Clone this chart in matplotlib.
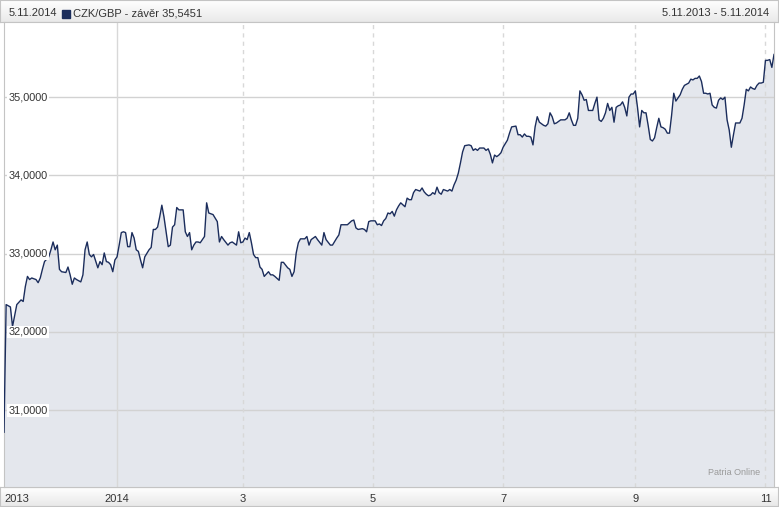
import datetime as dt
import numpy as np
import matplotlib
matplotlib.use('Agg')
import matplotlib.pyplot as plt
from matplotlib.colors import LinearSegmentedColormap
from matplotlib.patches import Rectangle

plt.rcParams['font.family'] = ['Liberation Sans', 'DejaVu Sans']

# data: day offset from 9.11.2013 and CZK/GBP close
start = dt.date(2013, 11, 9)
days = [0, 1, 3, 4, 6, 8, 9, 10, 11, 12,
        13, 15, 16, 17, 18, 19, 21, 22, 23, 24,
        25, 26, 27, 29, 30, 31, 32, 33, 34, 36,
        37, 38, 39, 40, 41, 42, 44, 45, 46, 47,
        48, 49, 50, 51, 52, 53, 54, 55, 56, 57,
        58, 59, 60, 61, 62, 63, 64, 65, 66, 68,
        69, 70, 71, 72, 73, 74, 75, 76, 77, 78,
        79, 80, 81, 82, 84, 85, 86, 87, 88, 89,
        90, 91, 92, 94, 95, 96, 97, 98, 100, 101,
        102, 103, 105, 106, 107, 109, 110, 111, 112, 113,
        114, 115, 116, 117, 118, 119, 120, 121, 122, 124,
        125, 126, 127, 129, 130, 131, 133, 134, 135, 136,
        137, 138, 139, 141, 142, 143, 144, 146, 147, 149,
        150, 151, 153, 154, 156, 157, 158, 160, 161, 163,
        164, 165, 166, 168, 169, 170, 171, 172, 174, 175,
        176, 177, 178, 179, 180, 181, 182, 183, 184, 185,
        186, 188, 189, 190, 191, 192, 193, 195, 196, 197,
        198, 199, 200, 201, 202, 203, 204, 205, 206, 208,
        209, 210, 211, 212, 213, 214, 215, 216, 218, 219,
        220, 221, 222, 223, 225, 226, 227, 228, 229, 230,
        231, 232, 233, 234, 236, 237, 238, 240, 241, 242,
        243, 244, 245, 246, 247, 248, 249, 250, 251, 252,
        253, 254, 255, 256, 257, 258, 259, 260, 261, 263,
        264, 265, 266, 267, 268, 269, 270, 271, 272, 273,
        274, 275, 276, 277, 278, 279, 280, 281, 282, 283,
        284, 285, 286, 287, 288, 289, 290, 291, 292, 293,
        294, 295, 296, 297, 298, 299, 300, 301, 302, 303,
        304, 305, 306, 307, 308, 309, 310, 311, 312, 313,
        314, 315, 316, 317, 318, 319, 321, 322, 323, 324,
        325, 326, 327, 328, 329, 330, 331, 332, 333, 334,
        335, 336, 337, 338, 339, 340, 341, 342, 343, 345,
        346, 347, 348, 349, 350, 351, 352, 353, 354, 355,
        356, 357, 358, 359, 360, 361]
vals = [30.72, 32.35, 32.32, 32.07, 32.35, 32.41, 32.39, 32.58, 32.71, 32.67,
        32.69, 32.67, 32.63, 32.69, 32.80, 32.90, 32.96, 33.05, 33.15, 33.05,
        33.11, 32.80, 32.77, 32.76, 32.83, 32.73, 32.61, 32.69, 32.67, 32.64,
        32.73, 33.05, 33.15, 32.99, 32.96, 32.99, 32.82, 32.90, 32.86, 33.01,
        32.90, 32.89, 32.86, 32.77, 32.92, 32.96, 33.11, 33.27, 33.28, 33.27,
        33.09, 33.09, 33.27, 33.20, 33.05, 33.03, 32.92, 32.82, 32.96, 33.05,
        33.08, 33.31, 33.31, 33.34, 33.47, 33.62, 33.47, 33.28, 33.09, 33.11,
        33.34, 33.37, 33.59, 33.56, 33.56, 33.28, 33.22, 33.27, 33.05, 33.11,
        33.15, 33.15, 33.14, 33.22, 33.65, 33.52, 33.51, 33.50, 33.41, 33.15,
        33.22, 33.18, 33.11, 33.14, 33.15, 33.11, 33.28, 33.14, 33.15, 33.20,
        33.18, 33.27, 33.14, 32.99, 32.95, 32.95, 32.83, 32.80, 32.71, 32.77,
        32.73, 32.73, 32.71, 32.66, 32.89, 32.89, 32.82, 32.80, 32.71, 32.77,
        33.01, 33.14, 33.19, 33.19, 33.22, 33.11, 33.18, 33.22, 33.18, 33.11,
        33.27, 33.18, 33.11, 33.11, 33.20, 33.24, 33.37, 33.37, 33.37, 33.42,
        33.43, 33.33, 33.31, 33.32, 33.31, 33.28, 33.41, 33.42, 33.42, 33.37,
        33.38, 33.36, 33.42, 33.45, 33.52, 33.51, 33.54, 33.48, 33.56, 33.61,
        33.65, 33.60, 33.71, 33.69, 33.69, 33.78, 33.82, 33.80, 33.84, 33.79,
        33.76, 33.74, 33.75, 33.78, 33.76, 33.85, 33.78, 33.76, 33.82, 33.80,
        33.82, 33.80, 33.88, 33.94, 34.03, 34.16, 34.30, 34.38, 34.39, 34.38,
        34.32, 34.34, 34.32, 34.35, 34.35, 34.32, 34.34, 34.27, 34.16, 34.26,
        34.24, 34.26, 34.29, 34.36, 34.45, 34.54, 34.62, 34.63, 34.52, 34.52,
        34.49, 34.53, 34.50, 34.50, 34.49, 34.39, 34.62, 34.75, 34.68, 34.66,
        34.64, 34.63, 34.66, 34.80, 34.75, 34.66, 34.67, 34.69, 34.71, 34.71,
        34.73, 34.80, 34.71, 34.64, 34.64, 34.73, 35.08, 35.03, 34.96, 34.97,
        34.83, 34.83, 34.83, 34.92, 35.00, 34.71, 34.69, 34.73, 34.80, 34.92,
        34.83, 34.87, 34.68, 34.87, 34.89, 34.90, 34.94, 34.87, 34.76, 35.00,
        35.04, 35.04, 35.08, 34.87, 34.62, 34.83, 34.80, 34.80, 34.64, 34.46,
        34.44, 34.48, 34.61, 34.73, 34.62, 34.61, 34.59, 34.54, 34.54, 34.77,
        35.05, 34.95, 34.99, 35.03, 35.10, 35.15, 35.18, 35.23, 35.22, 35.24,
        35.24, 35.27, 35.20, 35.05, 35.05, 35.04, 35.05, 34.90, 34.87, 34.86,
        34.96, 34.99, 34.97, 35.00, 34.71, 34.58, 34.36, 34.52, 34.67, 34.67,
        34.73, 34.90, 35.10, 35.08, 35.13, 35.11, 35.10, 35.15, 35.18, 35.18,
        35.19, 35.47, 35.47, 35.48, 35.38, 35.5451]
dates = [start + dt.timedelta(days=d) for d in days]

tick_dates = [dt.date(2014, m, 1) for m in (1, 3, 5, 7, 9, 11)]
tick_labels = ['2014', '3', '5', '7', '9', '11']
y_ticks = [31, 32, 33, 34, 35]
y_labels = ['31,0000', '32,0000', '33,0000', '34,0000', '35,0000']

W, H = 779, 507
fig = plt.figure(figsize=(W / 100, H / 100), dpi=100)


def box(x0, y0, x1, y1):
    return [x0 / W, 1 - y1 / H, (x1 - x0) / W, (y1 - y0) / H]


def bar(rect):
    b = fig.add_axes(box(*rect))
    cm = LinearSegmentedColormap.from_list('g', ['#ffffff', '#e9e9e9'])
    b.imshow(np.linspace(0, 1, 30).reshape(-1, 1), cmap=cm, aspect='auto', extent=(0, 1, 0, 1))
    b.set_xticks([])
    b.set_yticks([])
    for s in b.spines.values():
        s.set_color('#c4c4c4')
    return b


# header and footer bars
hdr = bar((0, 0, W - 1, 22))
bar((0, 487, W - 1, H - 1))

fig.text(9 / W, 1 - 13 / H, '5.11.2014', fontsize=8, color='#333333', va='center')
fig.patches.append(Rectangle((62 / W, 1 - 18 / H), 8 / W, 8 / H, transform=fig.transFigure,
                             color='#1b2d5c'))
fig.text(73 / W, 1 - 13 / H, 'CZK/GBP - závěr 35,5451', fontsize=8, color='#333333', va='center')
fig.text(769 / W, 1 - 13 / H, '5.11.2013 - 5.11.2014', fontsize=8, color='#333333',
         va='center', ha='right')

ax = fig.add_axes(box(4, 22, 774, 487))
ax.set_xlim(dates[0], dates[-1])
ax.set_ylim(30.02, 35.96)

ax.fill_between(dates, vals, 30, color='#e4e7ed', lw=0, zorder=1)
ax.plot(dates, vals, color='#1b2d5c', lw=1.0, zorder=3)

for y in y_ticks:
    ax.axhline(y, color='#d2d2d2', lw=1, zorder=2)
for i, d in enumerate(tick_dates):
    if i == 0:
        ax.axvline(d, color='#d8d8d8', lw=1, zorder=2)
    else:
        ax.axvline(d, color='#d8d8d8', lw=1, ls=(0, (3, 3)), zorder=2)

for y, lab in zip(y_ticks, y_labels):
    ax.text(0.006, y, lab, transform=ax.get_yaxis_transform(), fontsize=7.8, color='#333333',
            va='center', ha='left', zorder=4,
            bbox=dict(boxstyle='square,pad=0.12', fc='white', ec='none'))

ax.set_yticks([])
ax.set_xticks([dates[0]] + tick_dates, ['2013'] + tick_labels)
ax.tick_params(axis='x', length=0, pad=5, labelsize=8, labelcolor='#333333')
ax.get_xticklabels()[0].set_ha('left')

ax.text(0.982, 0.022, 'Patria Online', transform=ax.transAxes, fontsize=6.5, color='#9a9a9a',
        ha='right', va='bottom')

for s in ax.spines.values():
    s.set_color('#c4c4c4')

fig.savefig('out.png', dpi=100)
